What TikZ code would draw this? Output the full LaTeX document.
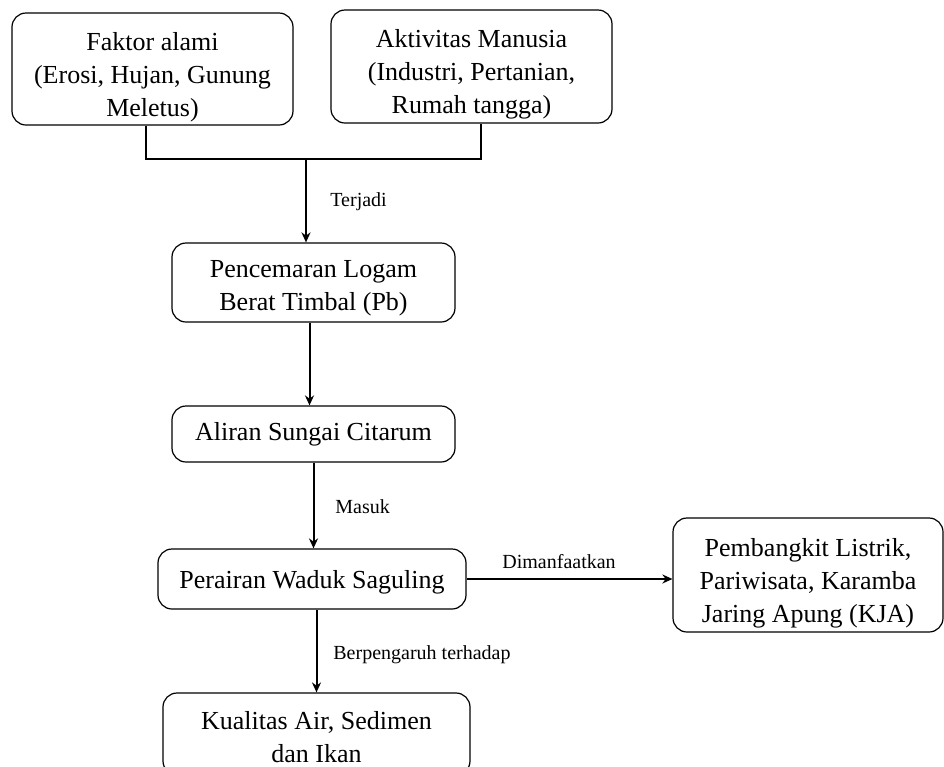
\documentclass[tikz,border=0pt]{standalone}
\usepackage{fontspec}
\setmainfont{Liberation Serif}
\usetikzlibrary{arrows.meta}
\newcommand{\ruang}[1]{\rule{0pt}{#1}}
\tikzset{
  kotak/.style={draw, rounded corners=7pt, line width=0.6pt, align=center,
    font=\fontsize{13}{16.5}\selectfont, inner sep=0pt},
  panah/.style={line width=1pt, -{Stealth[length=5pt,width=4.5pt]}},
  garis/.style={line width=1pt},
  ket/.style={font=\fontsize{10}{12}\selectfont, anchor=west, inner sep=0pt}
}
\begin{document}
\begin{tikzpicture}[x=0.5pt,y=-0.5pt]
\clip (0,0) rectangle (944,767);
% sumber pencemaran
\node[kotak, minimum width=140.5pt, minimum height=56pt] (faktor) at (152.5,69)
  {\ruang{17pt}Faktor alami\\(Erosi, Hujan, Gunung\\Meletus)};
\node[kotak, minimum width=140.5pt, minimum height=56.5pt] (aktivitas) at (471.5,66.5)
  {\ruang{17pt}Aktivitas Manusia\\(Industri, Pertanian,\\Rumah tangga)};
\coordinate (gabung) at (306,159);
% alur utama
\node[kotak, minimum width=141.5pt, minimum height=39.5pt] (pencemaran) at (313.5,282.5)
  {\ruang{14pt}Pencemaran Logam\\Berat Timbal (Pb)};
\node[kotak, minimum width=141.5pt, minimum height=28pt] (aliran) at (313.5,434)
  {Aliran Sungai Citarum};
\node[kotak, minimum width=154pt, minimum height=30pt] (perairan) at (312,579)
  {\ruang{12pt}Perairan Waduk Saguling};
\node[kotak, minimum width=135pt, minimum height=57pt] (pembangkit) at (808,575)
  {\ruang{17pt}Pembangkit Listrik,\\Pariwisata, Karamba\\Jaring Apung (KJA)};
\node[kotak, minimum width=153.5pt, minimum height=41pt] (kualitas) at (316.5,734)
  {\ruang{12pt}Kualitas Air, Sedimen\\dan Ikan};

\draw[garis] ([xshift=-3.5pt]faktor.south) |- (gabung) -| ([xshift=4.5pt]aktivitas.south);
\draw[panah] (gabung) -- (gabung |- pencemaran.north);
\node[ket] (terjadi) at (330,202) {Terjadi};
\draw[panah] ([xshift=-2pt]pencemaran.south) -- ([xshift=-2pt]aliran.north);
\draw[panah] (aliran.south) -- (aliran.south |- perairan.north);
\node[ket] (masuk) at (335,507) {Masuk};
\draw[panah] (perairan.east) -- (perairan.east -| pembangkit.west);
\node[ket] (manfaat) at (502,562) {Dimanfaatkan};
\draw[panah] (kualitas.north |- perairan.south) -- (kualitas.north);
\node[ket] (pengaruh) at (333,655) {Berpengaruh terhadap};
\end{tikzpicture}
\end{document}
